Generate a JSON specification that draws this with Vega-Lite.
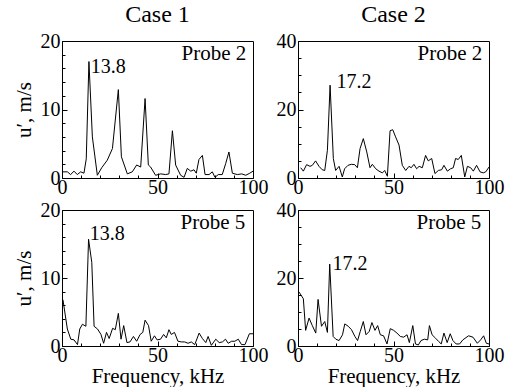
{
  "$schema": "https://vega.github.io/schema/vega-lite/v6.json",
  "background": "white",
  "padding": {"left": 12, "top": 2, "right": 5, "bottom": 1},
  "config": {
    "font": "Liberation Serif",
    "view": {"stroke": "black", "strokeWidth": 1}
  },
  "datasets": {
    "spec": [
      {"p":"1-2","f":0.5,"u":0.9},{"p":"1-2","f":2.8,"u":0.9},{"p":"1-2","f":4.5,"u":0.5},{"p":"1-2","f":6.3,"u":1.0},{"p":"1-2","f":8,"u":0.5},{"p":"1-2","f":9.8,"u":0.9},{"p":"1-2","f":11.5,"u":0.7},{"p":"1-2","f":12.7,"u":2.8},{"p":"1-2","f":14.1,"u":17.0},{"p":"1-2","f":15.9,"u":6.0},{"p":"1-2","f":18.5,"u":0.4},{"p":"1-2","f":20.8,"u":1.5},{"p":"1-2","f":23.7,"u":2.6},{"p":"1-2","f":26.4,"u":4.3},{"p":"1-2","f":29.5,"u":12.9},{"p":"1-2","f":31.1,"u":3.1},{"p":"1-2","f":34.2,"u":0.6},{"p":"1-2","f":36.8,"u":0.9},{"p":"1-2","f":39.1,"u":1.9},{"p":"1-2","f":41.2,"u":1.6},{"p":"1-2","f":43.5,"u":11.6},{"p":"1-2","f":45.2,"u":1.9},{"p":"1-2","f":46.4,"u":1.6},{"p":"1-2","f":49,"u":0.4},{"p":"1-2","f":51.7,"u":0.6},{"p":"1-2","f":54.3,"u":0.5},{"p":"1-2","f":56,"u":0.6},{"p":"1-2","f":57.8,"u":6.9},{"p":"1-2","f":59.5,"u":1.9},{"p":"1-2","f":62.1,"u":0.4},{"p":"1-2","f":63.9,"u":0.1},{"p":"1-2","f":65.6,"u":1.4},{"p":"1-2","f":67.4,"u":1.0},{"p":"1-2","f":69.1,"u":1.2},{"p":"1-2","f":70.3,"u":0.7},{"p":"1-2","f":71.7,"u":2.7},{"p":"1-2","f":73.5,"u":3.3},{"p":"1-2","f":74.9,"u":0.5},{"p":"1-2","f":77,"u":0.5},{"p":"1-2","f":78.7,"u":0.9},{"p":"1-2","f":80.1,"u":0.1},{"p":"1-2","f":81.8,"u":0.5},{"p":"1-2","f":83.9,"u":0.5},{"p":"1-2","f":85.7,"u":2.1},{"p":"1-2","f":87.4,"u":3.8},{"p":"1-2","f":89.2,"u":0.7},{"p":"1-2","f":91.8,"u":0.5},{"p":"1-2","f":94.1,"u":0.6},{"p":"1-2","f":96.2,"u":0.4},{"p":"1-2","f":98.3,"u":0.7},{"p":"1-2","f":100,"u":1.0},

      {"p":"2-2","f":1.4,"u":3.0},{"p":"2-2","f":2.8,"u":2.0},{"p":"2-2","f":4.5,"u":3.9},{"p":"2-2","f":6.3,"u":3.4},{"p":"2-2","f":7.5,"u":3.7},{"p":"2-2","f":9.2,"u":5.0},{"p":"2-2","f":11,"u":3.4},{"p":"2-2","f":12.7,"u":2.4},{"p":"2-2","f":14,"u":2.2},{"p":"2-2","f":15.4,"u":8.1},{"p":"2-2","f":16.8,"u":27.1},{"p":"2-2","f":18.5,"u":5.7},{"p":"2-2","f":19.7,"u":2.2},{"p":"2-2","f":21.5,"u":3.4},{"p":"2-2","f":23.2,"u":0.3},{"p":"2-2","f":24.4,"u":2.7},{"p":"2-2","f":26.2,"u":3.7},{"p":"2-2","f":27.9,"u":4.0},{"p":"2-2","f":29.7,"u":3.9},{"p":"2-2","f":31.1,"u":3.0},{"p":"2-2","f":32.5,"u":8.6},{"p":"2-2","f":34.2,"u":11.5},{"p":"2-2","f":36,"u":7.6},{"p":"2-2","f":37.7,"u":3.0},{"p":"2-2","f":38.9,"u":4.0},{"p":"2-2","f":40.7,"u":2.7},{"p":"2-2","f":42.4,"u":2.0},{"p":"2-2","f":44.2,"u":1.5},{"p":"2-2","f":45.4,"u":2.2},{"p":"2-2","f":46.8,"u":0.5},{"p":"2-2","f":48.2,"u":13.8},{"p":"2-2","f":49.6,"u":14.1},{"p":"2-2","f":51.1,"u":12.0},{"p":"2-2","f":52.9,"u":9.6},{"p":"2-2","f":54.6,"u":3.7},{"p":"2-2","f":56.4,"u":2.2},{"p":"2-2","f":58.1,"u":3.4},{"p":"2-2","f":59.3,"u":3.0},{"p":"2-2","f":60.7,"u":4.0},{"p":"2-2","f":62.1,"u":2.7},{"p":"2-2","f":63.4,"u":3.4},{"p":"2-2","f":65.1,"u":3.0},{"p":"2-2","f":66.8,"u":6.6},{"p":"2-2","f":68.2,"u":5.0},{"p":"2-2","f":70,"u":5.7},{"p":"2-2","f":71.7,"u":1.3},{"p":"2-2","f":73.5,"u":2.2},{"p":"2-2","f":75.2,"u":2.4},{"p":"2-2","f":76.4,"u":3.7},{"p":"2-2","f":78.2,"u":2.0},{"p":"2-2","f":79.9,"u":2.7},{"p":"2-2","f":81.3,"u":3.0},{"p":"2-2","f":82.5,"u":5.7},{"p":"2-2","f":83.9,"u":5.4},{"p":"2-2","f":85.5,"u":6.6},{"p":"2-2","f":87.3,"u":0.3},{"p":"2-2","f":88.7,"u":3.4},{"p":"2-2","f":90.4,"u":3.0},{"p":"2-2","f":91.8,"u":2.0},{"p":"2-2","f":93.5,"u":3.7},{"p":"2-2","f":95.3,"u":1.8},{"p":"2-2","f":97,"u":1.5},{"p":"2-2","f":98.3,"u":1.8},{"p":"2-2","f":100,"u":3.2},

      {"p":"1-5","f":0.5,"u":6.8},{"p":"1-5","f":2.8,"u":2.5},{"p":"1-5","f":4.6,"u":1.0},{"p":"1-5","f":6.3,"u":0.9},{"p":"1-5","f":8.1,"u":0.2},{"p":"1-5","f":9.3,"u":2.5},{"p":"1-5","f":10.7,"u":3.2},{"p":"1-5","f":12.5,"u":2.9},{"p":"1-5","f":13.9,"u":15.7},{"p":"1-5","f":15.6,"u":12.3},{"p":"1-5","f":16.8,"u":2.9},{"p":"1-5","f":18.6,"u":2.5},{"p":"1-5","f":20.4,"u":1.7},{"p":"1-5","f":21.8,"u":0.4},{"p":"1-5","f":23.3,"u":2.0},{"p":"1-5","f":24.7,"u":1.1},{"p":"1-5","f":26.5,"u":2.6},{"p":"1-5","f":27.9,"u":2.4},{"p":"1-5","f":29.5,"u":4.8},{"p":"1-5","f":30.9,"u":1.0},{"p":"1-5","f":32.3,"u":3.0},{"p":"1-5","f":34,"u":0.5},{"p":"1-5","f":35.6,"u":0.6},{"p":"1-5","f":37.4,"u":1.4},{"p":"1-5","f":39.1,"u":0.7},{"p":"1-5","f":40.9,"u":1.7},{"p":"1-5","f":42.3,"u":2.0},{"p":"1-5","f":43.5,"u":3.8},{"p":"1-5","f":45.3,"u":3.0},{"p":"1-5","f":46.7,"u":0.7},{"p":"1-5","f":48.4,"u":1.5},{"p":"1-5","f":49.8,"u":0.9},{"p":"1-5","f":51.6,"u":1.0},{"p":"1-5","f":53.2,"u":1.7},{"p":"1-5","f":54.6,"u":1.2},{"p":"1-5","f":56,"u":2.4},{"p":"1-5","f":57.2,"u":1.7},{"p":"1-5","f":58.9,"u":2.0},{"p":"1-5","f":60.7,"u":0.7},{"p":"1-5","f":62.5,"u":0.6},{"p":"1-5","f":64.2,"u":0.6},{"p":"1-5","f":66,"u":0.4},{"p":"1-5","f":67.7,"u":0.6},{"p":"1-5","f":69.5,"u":0.2},{"p":"1-5","f":71.8,"u":1.9},{"p":"1-5","f":73.5,"u":1.1},{"p":"1-5","f":75.3,"u":0.5},{"p":"1-5","f":76.5,"u":1.4},{"p":"1-5","f":78.2,"u":0.1},{"p":"1-5","f":80.5,"u":1.0},{"p":"1-5","f":82.3,"u":0.5},{"p":"1-5","f":84,"u":0.6},{"p":"1-5","f":85.6,"u":1.0},{"p":"1-5","f":87,"u":0.4},{"p":"1-5","f":88.8,"u":0.7},{"p":"1-5","f":90.5,"u":0.7},{"p":"1-5","f":92.3,"u":1.0},{"p":"1-5","f":94,"u":0.2},{"p":"1-5","f":95.8,"u":0.2},{"p":"1-5","f":98.1,"u":1.8},{"p":"1-5","f":100,"u":1.8},

      {"p":"2-5","f":0.5,"u":15.9},{"p":"2-5","f":2.8,"u":13.9},{"p":"2-5","f":4,"u":4.6},{"p":"2-5","f":5.8,"u":8.2},{"p":"2-5","f":7.5,"u":6.0},{"p":"2-5","f":9.3,"u":3.8},{"p":"2-5","f":10.5,"u":13.7},{"p":"2-5","f":12.3,"u":5.8},{"p":"2-5","f":14,"u":7.2},{"p":"2-5","f":15.4,"u":4.0},{"p":"2-5","f":16.6,"u":24.1},{"p":"2-5","f":18.4,"u":2.8},{"p":"2-5","f":19.8,"u":2.0},{"p":"2-5","f":21.5,"u":1.6},{"p":"2-5","f":23.3,"u":3.3},{"p":"2-5","f":24.5,"u":6.5},{"p":"2-5","f":26.3,"u":5.8},{"p":"2-5","f":28,"u":4.8},{"p":"2-5","f":29.8,"u":2.8},{"p":"2-5","f":31.2,"u":1.6},{"p":"2-5","f":32.6,"u":4.3},{"p":"2-5","f":34.2,"u":7.2},{"p":"2-5","f":35.6,"u":3.3},{"p":"2-5","f":37.3,"u":4.3},{"p":"2-5","f":38.7,"u":6.9},{"p":"2-5","f":40.3,"u":4.6},{"p":"2-5","f":41.7,"u":6.0},{"p":"2-5","f":43.1,"u":3.3},{"p":"2-5","f":44.8,"u":3.0},{"p":"2-5","f":46.6,"u":0.6},{"p":"2-5","f":48.3,"u":5.1},{"p":"2-5","f":50.1,"u":4.6},{"p":"2-5","f":51.8,"u":3.8},{"p":"2-5","f":53.6,"u":2.8},{"p":"2-5","f":55.3,"u":2.6},{"p":"2-5","f":57.1,"u":3.3},{"p":"2-5","f":58.3,"u":1.0},{"p":"2-5","f":60.1,"u":6.0},{"p":"2-5","f":61.5,"u":0.6},{"p":"2-5","f":63,"u":0.3},{"p":"2-5","f":64.4,"u":1.6},{"p":"2-5","f":66.2,"u":2.0},{"p":"2-5","f":67.9,"u":1.8},{"p":"2-5","f":68.8,"u":6.0},{"p":"2-5","f":70.2,"u":3.3},{"p":"2-5","f":72,"u":2.3},{"p":"2-5","f":73.7,"u":1.3},{"p":"2-5","f":75,"u":0.6},{"p":"2-5","f":76.4,"u":3.8},{"p":"2-5","f":78.1,"u":1.0},{"p":"2-5","f":79.7,"u":3.6},{"p":"2-5","f":81.1,"u":1.6},{"p":"2-5","f":82.8,"u":0.6},{"p":"2-5","f":84.6,"u":0.6},{"p":"2-5","f":86.3,"u":1.8},{"p":"2-5","f":89.3,"u":3.0},{"p":"2-5","f":91.6,"u":2.6},{"p":"2-5","f":93.9,"u":0.8},{"p":"2-5","f":95.6,"u":1.8},{"p":"2-5","f":97.2,"u":3.0},{"p":"2-5","f":98.6,"u":0.8},{"p":"2-5","f":100,"u":0.6}
    ],
    "notes": [
      {"p":"1-2","kind":"peak","f":15.0,"u":16.2,"t":"13.8"},
      {"p":"1-2","kind":"probe","f":96.5,"u":18.1,"t":"Probe 2"},
      {"p":"2-2","kind":"peak","f":20.2,"u":28.1,"t":"17.2"},
      {"p":"2-2","kind":"probe","f":96.5,"u":36.2,"t":"Probe 2"},
      {"p":"1-5","kind":"peak","f":14.5,"u":16.4,"t":"13.8"},
      {"p":"1-5","kind":"probe","f":96.0,"u":18.1,"t":"Probe 5"},
      {"p":"2-5","kind":"peak","f":18.0,"u":24.2,"t":"17.2"},
      {"p":"2-5","kind":"probe","f":96.0,"u":36.2,"t":"Probe 5"}
    ]
  },
  "columns": 2,
  "spacing": {"row": 32, "column": 45},
  "bounds": "flush",
  "concat": [
    {
      "width": 191, "height": 137,
      "title": {"text": "Case 1", "offset": 4, "font": "Liberation Serif", "fontSize": 24, "fontWeight": "normal", "color": "black"},
      "resolve": {"axis": {"x": "independent", "y": "independent"}},
      "layer": [
        {"data": {"name": "spec"}, "transform": [{"filter": "datum.p === '1-2'"}],
         "mark": {"type": "line", "color": "black", "strokeWidth": 1, "clip": true},
         "encoding": {
           "x": {"field": "f", "type": "quantitative", "scale": {"domain": [0, 100], "nice": false}, "axis": {"orient": "bottom", "values": [0, 50, 100], "grid": false, "tickSize": -5, "tickColor": "black", "domainColor": "black", "labelPadding": 4, "labelFont": "Liberation Serif", "labelFontSize": 20, "labelColor": "black", "labelFlush": false, "labelOverlap": false, "title": null}},
           "y": {"field": "u", "type": "quantitative", "scale": {"domain": [0, 20], "nice": false}, "axis": {"orient": "left", "values": [0, 10, 20], "grid": false, "tickSize": -5, "tickColor": "black", "domainColor": "black", "labelPadding": 7, "labelFont": "Liberation Serif", "labelFontSize": 20, "labelColor": "black", "labelFlush": false, "labelOverlap": false, "title": "u′, m/s", "titleFont": "Liberation Serif", "titleFontSize": 21, "titleFontWeight": "normal", "titleColor": "black", "titlePadding": 6}}
         }},
        {"data": {"name": "notes"}, "transform": [{"filter": "datum.p === '1-2' && datum.kind === 'peak'"}],
         "mark": {"type": "text", "align": "left", "baseline": "middle", "font": "Liberation Serif", "fontSize": 20, "color": "black"},
         "encoding": {
           "x": {"field": "f", "type": "quantitative", "axis": {"orient": "bottom", "values": [10, 20, 30, 40, 60, 70, 80, 90], "grid": false, "tickSize": -3, "tickColor": "black", "labels": false, "domain": false, "title": null}},
           "y": {"field": "u", "type": "quantitative", "axis": {"orient": "left", "values": [2, 4, 6, 8, 12, 14, 16, 18], "grid": false, "tickSize": -3, "tickColor": "black", "labels": false, "domain": false, "title": null}},
           "text": {"field": "t"}
         }},
        {"data": {"name": "notes"}, "transform": [{"filter": "datum.p === '1-2' && datum.kind === 'probe'"}],
         "mark": {"type": "text", "align": "right", "baseline": "middle", "font": "Liberation Serif", "fontSize": 21, "color": "black"},
         "encoding": {
           "x": {"field": "f", "type": "quantitative", "axis": null},
           "y": {"field": "u", "type": "quantitative", "axis": null},
           "text": {"field": "t"}
         }}
      ]
    },
    {
      "width": 191, "height": 137,
      "title": {"text": "Case 2", "offset": 4, "font": "Liberation Serif", "fontSize": 24, "fontWeight": "normal", "color": "black"},
      "resolve": {"axis": {"x": "independent", "y": "independent"}},
      "layer": [
        {"data": {"name": "spec"}, "transform": [{"filter": "datum.p === '2-2'"}],
         "mark": {"type": "line", "color": "black", "strokeWidth": 1, "clip": true},
         "encoding": {
           "x": {"field": "f", "type": "quantitative", "scale": {"domain": [0, 100], "nice": false}, "axis": {"orient": "bottom", "values": [0, 50, 100], "grid": false, "tickSize": -5, "tickColor": "black", "domainColor": "black", "labelPadding": 4, "labelFont": "Liberation Serif", "labelFontSize": 20, "labelColor": "black", "labelFlush": false, "labelOverlap": false, "title": null}},
           "y": {"field": "u", "type": "quantitative", "scale": {"domain": [0, 40], "nice": false}, "axis": {"orient": "left", "values": [0, 20, 40], "grid": false, "tickSize": -5, "tickColor": "black", "domainColor": "black", "labelPadding": 7, "labelFont": "Liberation Serif", "labelFontSize": 20, "labelColor": "black", "labelFlush": false, "labelOverlap": false, "title": null}}
         }},
        {"data": {"name": "notes"}, "transform": [{"filter": "datum.p === '2-2' && datum.kind === 'peak'"}],
         "mark": {"type": "text", "align": "left", "baseline": "middle", "font": "Liberation Serif", "fontSize": 20, "color": "black"},
         "encoding": {
           "x": {"field": "f", "type": "quantitative", "axis": {"orient": "bottom", "values": [10, 20, 30, 40, 60, 70, 80, 90], "grid": false, "tickSize": -3, "tickColor": "black", "labels": false, "domain": false, "title": null}},
           "y": {"field": "u", "type": "quantitative", "axis": {"orient": "left", "values": [5, 10, 15, 25, 30, 35], "grid": false, "tickSize": -3, "tickColor": "black", "labels": false, "domain": false, "title": null}},
           "text": {"field": "t"}
         }},
        {"data": {"name": "notes"}, "transform": [{"filter": "datum.p === '2-2' && datum.kind === 'probe'"}],
         "mark": {"type": "text", "align": "right", "baseline": "middle", "font": "Liberation Serif", "fontSize": 21, "color": "black"},
         "encoding": {
           "x": {"field": "f", "type": "quantitative", "axis": null},
           "y": {"field": "u", "type": "quantitative", "axis": null},
           "text": {"field": "t"}
         }}
      ]
    },
    {
      "width": 191, "height": 136,
      "resolve": {"axis": {"x": "independent", "y": "independent"}},
      "layer": [
        {"data": {"name": "spec"}, "transform": [{"filter": "datum.p === '1-5'"}],
         "mark": {"type": "line", "color": "black", "strokeWidth": 1, "clip": true},
         "encoding": {
           "x": {"field": "f", "type": "quantitative", "scale": {"domain": [0, 100], "nice": false}, "axis": {"orient": "bottom", "values": [0, 50, 100], "grid": false, "tickSize": -5, "tickColor": "black", "domainColor": "black", "labelPadding": 4, "labelFont": "Liberation Serif", "labelFontSize": 20, "labelColor": "black", "labelFlush": false, "labelOverlap": false, "title": "Frequency, kHz", "titleFont": "Liberation Serif", "titleFontSize": 21, "titleFontWeight": "normal", "titleColor": "black", "titlePadding": 0}},
           "y": {"field": "u", "type": "quantitative", "scale": {"domain": [0, 20], "nice": false}, "axis": {"orient": "left", "values": [0, 10, 20], "grid": false, "tickSize": -5, "tickColor": "black", "domainColor": "black", "labelPadding": 7, "labelFont": "Liberation Serif", "labelFontSize": 20, "labelColor": "black", "labelFlush": false, "labelOverlap": false, "title": "u′, m/s", "titleFont": "Liberation Serif", "titleFontSize": 21, "titleFontWeight": "normal", "titleColor": "black", "titlePadding": 6}}
         }},
        {"data": {"name": "notes"}, "transform": [{"filter": "datum.p === '1-5' && datum.kind === 'peak'"}],
         "mark": {"type": "text", "align": "left", "baseline": "middle", "font": "Liberation Serif", "fontSize": 20, "color": "black"},
         "encoding": {
           "x": {"field": "f", "type": "quantitative", "axis": {"orient": "bottom", "values": [10, 20, 30, 40, 60, 70, 80, 90], "grid": false, "tickSize": -3, "tickColor": "black", "labels": false, "domain": false, "title": null}},
           "y": {"field": "u", "type": "quantitative", "axis": {"orient": "left", "values": [2, 4, 6, 8, 12, 14, 16, 18], "grid": false, "tickSize": -3, "tickColor": "black", "labels": false, "domain": false, "title": null}},
           "text": {"field": "t"}
         }},
        {"data": {"name": "notes"}, "transform": [{"filter": "datum.p === '1-5' && datum.kind === 'probe'"}],
         "mark": {"type": "text", "align": "right", "baseline": "middle", "font": "Liberation Serif", "fontSize": 21, "color": "black"},
         "encoding": {
           "x": {"field": "f", "type": "quantitative", "axis": null},
           "y": {"field": "u", "type": "quantitative", "axis": null},
           "text": {"field": "t"}
         }}
      ]
    },
    {
      "width": 191, "height": 136,
      "resolve": {"axis": {"x": "independent", "y": "independent"}},
      "layer": [
        {"data": {"name": "spec"}, "transform": [{"filter": "datum.p === '2-5'"}],
         "mark": {"type": "line", "color": "black", "strokeWidth": 1, "clip": true},
         "encoding": {
           "x": {"field": "f", "type": "quantitative", "scale": {"domain": [0, 100], "nice": false}, "axis": {"orient": "bottom", "values": [0, 50, 100], "grid": false, "tickSize": -5, "tickColor": "black", "domainColor": "black", "labelPadding": 4, "labelFont": "Liberation Serif", "labelFontSize": 20, "labelColor": "black", "labelFlush": false, "labelOverlap": false, "title": "Frequency, kHz", "titleFont": "Liberation Serif", "titleFontSize": 21, "titleFontWeight": "normal", "titleColor": "black", "titlePadding": 0}},
           "y": {"field": "u", "type": "quantitative", "scale": {"domain": [0, 40], "nice": false}, "axis": {"orient": "left", "values": [0, 20, 40], "grid": false, "tickSize": -5, "tickColor": "black", "domainColor": "black", "labelPadding": 7, "labelFont": "Liberation Serif", "labelFontSize": 20, "labelColor": "black", "labelFlush": false, "labelOverlap": false, "title": null}}
         }},
        {"data": {"name": "notes"}, "transform": [{"filter": "datum.p === '2-5' && datum.kind === 'peak'"}],
         "mark": {"type": "text", "align": "left", "baseline": "middle", "font": "Liberation Serif", "fontSize": 20, "color": "black"},
         "encoding": {
           "x": {"field": "f", "type": "quantitative", "axis": {"orient": "bottom", "values": [10, 20, 30, 40, 60, 70, 80, 90], "grid": false, "tickSize": -3, "tickColor": "black", "labels": false, "domain": false, "title": null}},
           "y": {"field": "u", "type": "quantitative", "axis": {"orient": "left", "values": [5, 10, 15, 25, 30, 35], "grid": false, "tickSize": -3, "tickColor": "black", "labels": false, "domain": false, "title": null}},
           "text": {"field": "t"}
         }},
        {"data": {"name": "notes"}, "transform": [{"filter": "datum.p === '2-5' && datum.kind === 'probe'"}],
         "mark": {"type": "text", "align": "right", "baseline": "middle", "font": "Liberation Serif", "fontSize": 21, "color": "black"},
         "encoding": {
           "x": {"field": "f", "type": "quantitative", "axis": null},
           "y": {"field": "u", "type": "quantitative", "axis": null},
           "text": {"field": "t"}
         }}
      ]
    }
  ]
}
